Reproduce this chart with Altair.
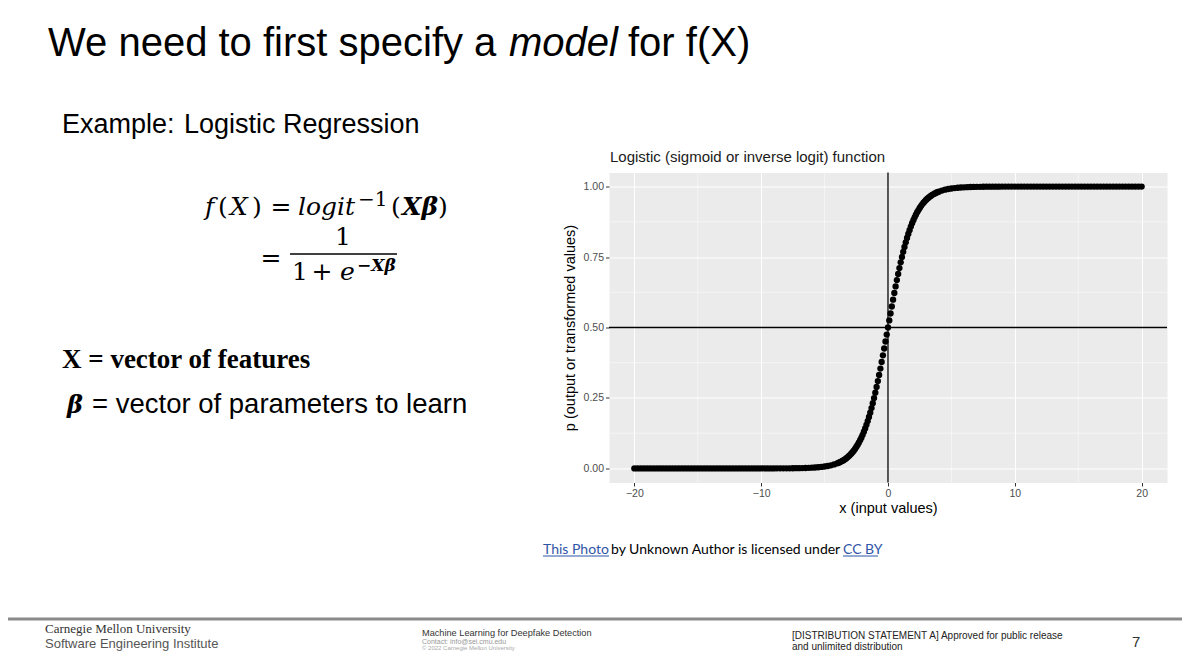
import altair as alt
import pandas as pd

# ---------------- data ----------------
X_LEFT = [-20.0, -19.75, -19.5, -19.25, -19.0, -18.75, -18.5, -18.25, -18.0, -17.75,
          -17.5, -17.25, -17.0, -16.75, -16.5, -16.25, -16.0, -15.75, -15.5, -15.25,
          -15.0, -14.75, -14.5, -14.25, -14.0, -13.75, -13.5, -13.25, -13.0, -12.75,
          -12.5, -12.25, -12.0, -11.75, -11.5, -11.25, -11.0, -10.75, -10.5, -10.25,
          -10.0,
          -9.75, -9.5, -9.25, -9.0, -8.75, -8.5, -8.25, -8.0, -7.75, -7.5,
          -7.25, -7.0, -6.75, -6.5, -6.25, -6.0, -5.75, -5.5, -5.25, -5.0,
          -4.75, -4.5, -4.25]
Y_LEFT = [0.0, 0.0, 0.0, 0.0, 0.0, 0.0, 0.0, 0.0, 0.0, 0.0,
          0.0, 0.0, 0.0, 0.0, 0.0, 0.0, 0.0, 0.0, 0.0, 0.0,
          0.0, 0.0, 0.0, 0.0, 0.0, 0.0, 0.0, 0.0, 0.0, 0.0,
          0.0, 0.0, 0.0, 0.0, 0.0, 0.0, 0.0, 0.0, 0.0, 0.0,
          0.0,
          0.0001, 0.0001, 0.0001, 0.0001, 0.0002, 0.0002, 0.0003, 0.0003, 0.0004, 0.0006,
          0.0007, 0.0009, 0.0012, 0.0015, 0.0019, 0.0025, 0.0032, 0.0041, 0.0052, 0.0067,
          0.0086, 0.0110, 0.0141]

X_MID = [-4.0, -3.9, -3.8, -3.7, -3.6, -3.5, -3.4, -3.3, -3.2, -3.1,
         -3.0, -2.9, -2.8, -2.7, -2.6, -2.5, -2.4, -2.3, -2.2, -2.1,
         -2.0, -1.9, -1.8, -1.7, -1.6, -1.5, -1.4, -1.3, -1.2, -1.1,
         -1.0, -0.9, -0.8, -0.7, -0.6, -0.5, -0.4, -0.3, -0.2, -0.1,
         0.0,
         0.1, 0.2, 0.3, 0.4, 0.5, 0.6, 0.7, 0.8, 0.9, 1.0,
         1.1, 1.2, 1.3, 1.4, 1.5, 1.6, 1.7, 1.8, 1.9, 2.0,
         2.1, 2.2, 2.3, 2.4, 2.5, 2.6, 2.7, 2.8, 2.9, 3.0,
         3.1, 3.2, 3.3, 3.4, 3.5, 3.6, 3.7, 3.8, 3.9, 4.0]
Y_MID = [0.0180, 0.0198, 0.0219, 0.0241, 0.0266, 0.0293, 0.0323, 0.0356, 0.0392, 0.0431,
         0.0474, 0.0522, 0.0573, 0.0630, 0.0691, 0.0759, 0.0832, 0.0911, 0.0998, 0.1091,
         0.1192, 0.1301, 0.1419, 0.1545, 0.1680, 0.1824, 0.1978, 0.2142, 0.2315, 0.2497,
         0.2689, 0.2891, 0.3100, 0.3318, 0.3543, 0.3775, 0.4013, 0.4256, 0.4502, 0.4750,
         0.5000,
         0.5250, 0.5498, 0.5744, 0.5987, 0.6225, 0.6457, 0.6682, 0.6900, 0.7109, 0.7311,
         0.7503, 0.7685, 0.7858, 0.8022, 0.8176, 0.8320, 0.8455, 0.8581, 0.8699, 0.8808,
         0.8909, 0.9002, 0.9089, 0.9168, 0.9241, 0.9309, 0.9370, 0.9427, 0.9478, 0.9526,
         0.9569, 0.9608, 0.9644, 0.9677, 0.9707, 0.9734, 0.9759, 0.9781, 0.9802, 0.9820]

X_RIGHT = [4.25, 4.5, 4.75, 5.0, 5.25, 5.5, 5.75, 6.0, 6.25, 6.5,
           6.75, 7.0, 7.25, 7.5, 7.75, 8.0, 8.25, 8.5, 8.75, 9.0,
           9.25, 9.5, 9.75,
           10.0, 10.25, 10.5, 10.75, 11.0, 11.25, 11.5, 11.75, 12.0, 12.25,
           12.5, 12.75, 13.0, 13.25, 13.5, 13.75, 14.0, 14.25, 14.5, 14.75,
           15.0, 15.25, 15.5, 15.75, 16.0, 16.25, 16.5, 16.75, 17.0, 17.25,
           17.5, 17.75, 18.0, 18.25, 18.5, 18.75, 19.0, 19.25, 19.5, 19.75,
           20.0]
Y_RIGHT = [0.9859, 0.9890, 0.9914, 0.9933, 0.9948, 0.9959, 0.9968, 0.9975, 0.9981, 0.9985,
           0.9988, 0.9991, 0.9993, 0.9994, 0.9996, 0.9997, 0.9997, 0.9998, 0.9998, 0.9999,
           0.9999, 0.9999, 0.9999,
           1.0, 1.0, 1.0, 1.0, 1.0, 1.0, 1.0, 1.0, 1.0, 1.0,
           1.0, 1.0, 1.0, 1.0, 1.0, 1.0, 1.0, 1.0, 1.0, 1.0,
           1.0, 1.0, 1.0, 1.0, 1.0, 1.0, 1.0, 1.0, 1.0, 1.0,
           1.0, 1.0, 1.0, 1.0, 1.0, 1.0, 1.0, 1.0, 1.0, 1.0,
           1.0]

X_TICKS = [-20, -10, 0, 10, 20]
Y_TICKS = [0.0, 0.25, 0.5, 0.75, 1.0]
X_MINOR = [-15, -5, 5, 15]
Y_MINOR = [0.125, 0.375, 0.625, 0.875]
VLINE_X = [0]
HLINE_P = [0.5]

CHART_TITLE = "Logistic (sigmoid or inverse logit) function"
X_TITLE = "x (input values)"
Y_TITLE = "p (output or transformed values)"

# ---------------- layout ----------------
PLOT_LEFT, PLOT_TOP = 609, 172.5   # page position of the plot area
W, H = 558, 310
SVG_W, SVG_H = 1174, 644


def px(X):
    return X - PLOT_LEFT


def py(Y):
    return Y - PLOT_TOP


xscale = alt.Scale(domain=[-22, 22], nice=False, zero=False)
yscale = alt.Scale(domain=[-0.05, 1.05], nice=False, zero=False)

xaxis = alt.Axis(values=X_TICKS, title=X_TITLE, grid=True, gridColor="white", gridWidth=1.0,
                 domain=False, tickSize=3.5, tickColor="#333333", tickWidth=1,
                 labelFont="Liberation Sans", labelFontSize=10.5, labelColor="#4D4D4D", labelPadding=2,
                 titleFont="Liberation Sans", titleFontSize=14.5, titleFontWeight="normal",
                 titleColor="black", titlePadding=3)
yaxis = alt.Axis(values=Y_TICKS, format=".2f", title=Y_TITLE, grid=True, gridColor="white",
                 gridWidth=1.0, domain=False, tickSize=3.5, tickColor="#333333", tickWidth=1,
                 labelFont="Liberation Sans", labelFontSize=10.5, labelColor="#4D4D4D", labelPadding=2,
                 titleFont="Liberation Sans", titleFontSize=14.5, titleFontWeight="normal",
                 titleColor="black", titlePadding=6)

X_ENC = alt.X("x:Q", scale=xscale, axis=xaxis)
Y_ENC = alt.Y("p:Q", scale=yscale, axis=yaxis)

df = pd.DataFrame({"x": X_LEFT + X_MID + X_RIGHT, "p": Y_LEFT + Y_MID + Y_RIGHT})

minor_x = alt.Chart(pd.DataFrame({"x": X_MINOR})).mark_rule(color="white", strokeWidth=0.5).encode(x=X_ENC)
minor_y = alt.Chart(pd.DataFrame({"p": Y_MINOR})).mark_rule(color="white", strokeWidth=0.5).encode(y=Y_ENC)
vline = alt.Chart(pd.DataFrame({"x": VLINE_X})).mark_rule(color="black", strokeWidth=1.3).encode(x=X_ENC)
hline = alt.Chart(pd.DataFrame({"p": HLINE_P})).mark_rule(color="black", strokeWidth=1.3).encode(y=Y_ENC)
points = alt.Chart(df).mark_circle(size=40, color="black", opacity=1).encode(x=X_ENC, y=Y_ENC)


def txt(s, X, Y, size, font="Liberation Sans", color="black", weight="normal",
        style="normal", align="left"):
    return alt.Chart(pd.DataFrame({"t": [s]})).mark_text(
        align=align, baseline="alphabetic", fontSize=size, font=font,
        fontWeight=weight, fontStyle=style, color=color
    ).encode(x=alt.value(px(X)), y=alt.value(py(Y)), text="t:N")


def hrule(X1, X2, Y, color, width):
    return alt.Chart(pd.DataFrame({"k": [0]})).mark_rule(color=color, strokeWidth=width).encode(
        x=alt.value(px(X1)), x2=alt.value(px(X2)), y=alt.value(py(Y)))


SERIF_M = "DejaVu Serif"
LINK = "#2F55A8"

slide = [
    # chart title
    txt(CHART_TITLE, 610, 162, 15, color="#1A1A1A"),
    # slide title
    txt("We need to first specify a", 48, 56, 40),
    txt("model", 509, 56, 40, style="italic"),
    txt("for f(X)", 628, 56, 40),
    # example line
    txt("Example:", 62, 133, 27),
    txt("Logistic Regression", 184, 133, 27),
    # formula line 1
    txt("f", 205, 215, 25, font=SERIF_M, style="italic"),
    txt("(", 218, 215, 25, font=SERIF_M),
    txt("X", 230, 215, 25, font=SERIF_M, style="italic"),
    txt(")", 252, 215, 25, font=SERIF_M),
    txt("=", 281, 215, 25, font=SERIF_M, align="center"),
    txt("logit", 298, 215, 25, font=SERIF_M, style="italic"),
    txt("\u22121", 358, 206, 20, font=SERIF_M),
    txt("(", 391, 215, 25, font=SERIF_M),
    txt("X\u03b2", 402, 215, 25, font=SERIF_M, style="italic", weight="bold"),
    txt(")", 438, 215, 25, font=SERIF_M),
    # formula line 2
    txt("=", 271, 266, 25, font=SERIF_M, align="center"),
    txt("1", 343, 245, 25, font=SERIF_M, align="center"),
    hrule(290, 397, 254, "black", 1.5),
    txt("1", 292, 280, 25, font=SERIF_M),
    txt("+", 322, 280, 25, font=SERIF_M, align="center"),
    txt("e", 340, 280, 25, font=SERIF_M, style="italic"),
    txt("\u2212X\u03b2", 357, 271, 17, font=SERIF_M, style="italic", weight="bold"),
    # definitions
    txt("X = vector of features", 62, 368, 27, font="Liberation Serif", weight="bold"),
    txt("\u03b2", 67, 413, 24, font=SERIF_M, style="italic", weight="bold"),
    txt("= vector of parameters to learn", 92, 413, 27.5),
    # attribution
    txt("This Photo", 543, 554, 14, font="Lato", color=LINK),
    hrule(543, 609, 556, LINK, 1),
    txt("by Unknown Author is licensed under", 611, 554, 14, font="Lato"),
    txt("CC BY", 843, 554, 14, font="Lato", color=LINK),
    hrule(843, 878, 556, LINK, 1),
    # footer (kept inside the drawable page area)
    hrule(0, 1190, 619, "#8A8A8A", 3),
    txt("Carnegie Mellon University", 45, 633, 13, font="Liberation Serif", color="#333333"),
    txt("Software Engineering Institute", 45, 648, 13, color="#555555"),
    txt("Machine Learning for Deepfake Detection", 422, 636, 9.2, color="#333333"),
    txt("Contact: info@sei.cmu.edu", 422, 644, 7, color="#999999"),
    txt("\u00a9 2022 Carnegie Mellon University", 422, 650, 6, color="#AAAAAA"),
    txt("[DISTRIBUTION STATEMENT A] Approved for public release", 792, 639, 10, color="#222222"),
    txt("and unlimited distribution", 792, 649.5, 10, color="#222222"),
    txt("7", 1132, 647, 15, color="#333333"),
]

chart = alt.layer(minor_x, minor_y, vline, hline, points, *slide).properties(
    width=W,
    height=H,
    autosize=alt.AutoSizeParams(type="none"),
    padding={"left": PLOT_LEFT - 8, "top": PLOT_TOP - 8,
             "right": SVG_W - (PLOT_LEFT - 8) - W, "bottom": SVG_H - (PLOT_TOP - 8) - H},
    background="white",
).configure_view(fill="#EBEBEB", stroke="transparent")

chart.save("out.html", embed_options={"renderer": "svg", "actions": False})
